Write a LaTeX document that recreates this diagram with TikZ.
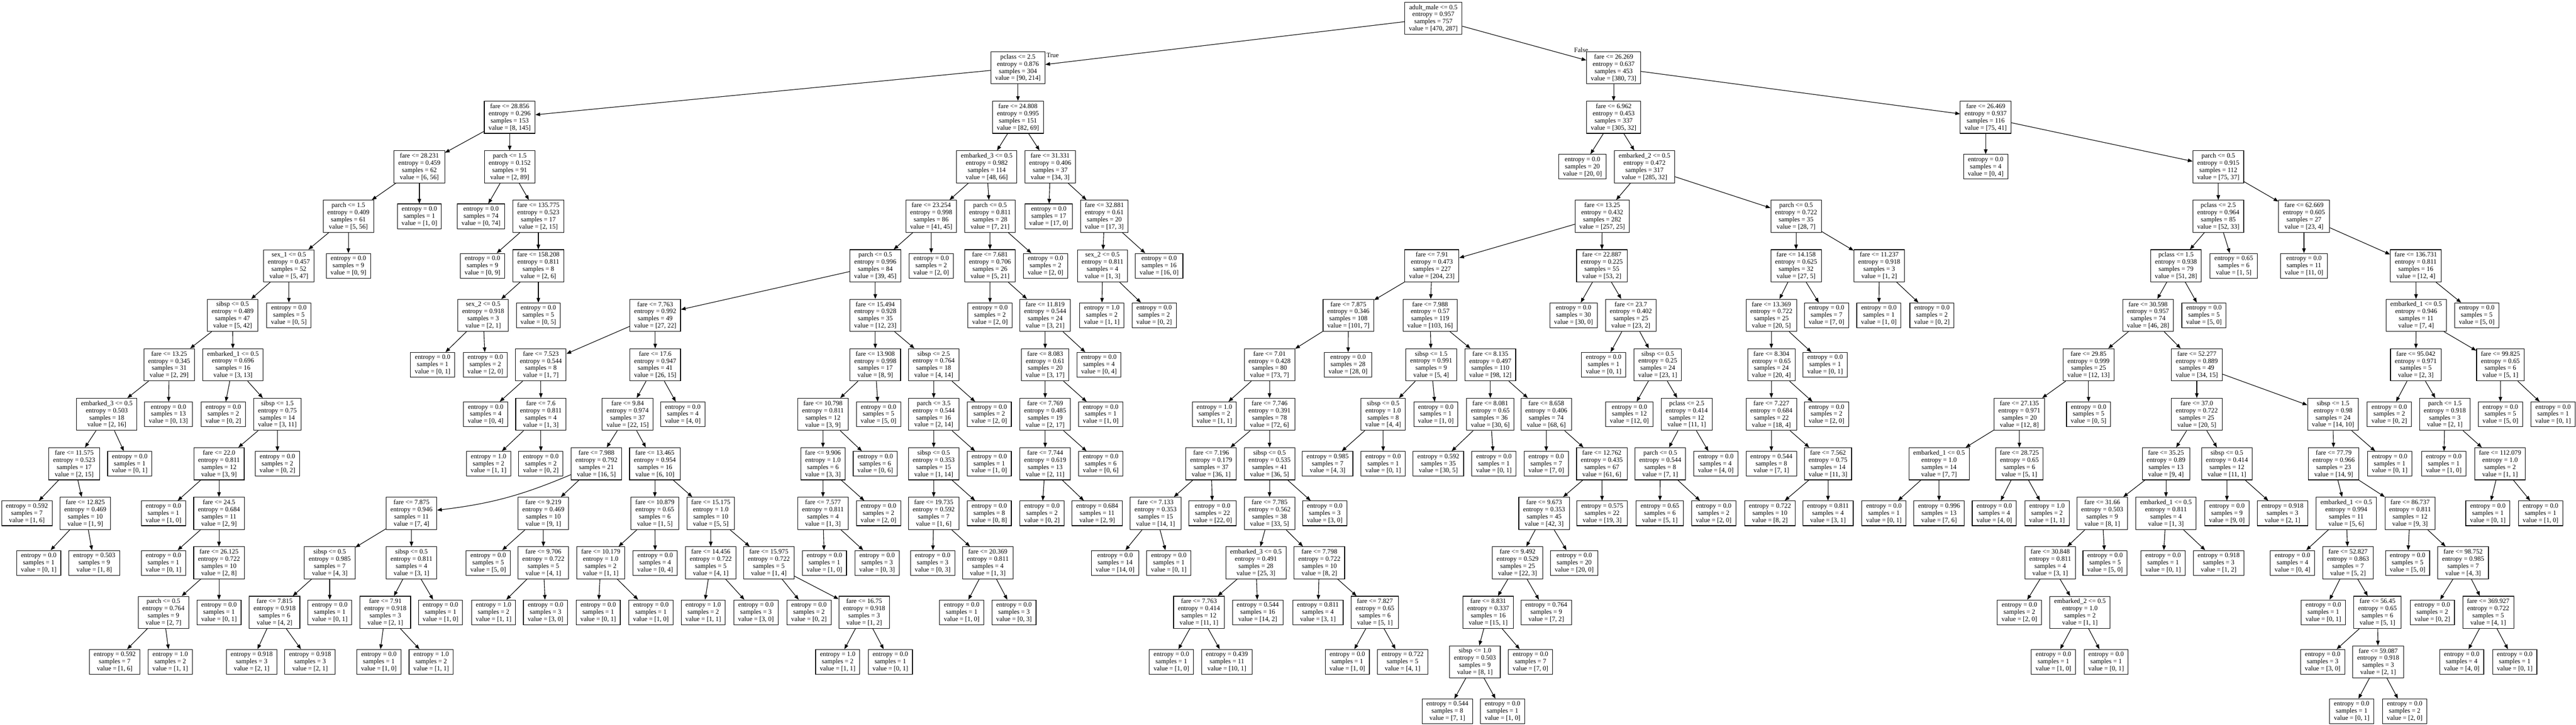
\documentclass[tikz,border=0pt]{standalone}
\usepackage{fontspec}
\setmainfont{Liberation Serif}
\usepackage{tikz}
\usetikzlibrary{arrows.meta}
\newcommand{\SplitText}[4]{#1\\entropy = #2\\samples = #3\\value = [#4]}
\newcommand{\LeafText}[3]{entropy = #1\\samples = #2\\value = [#3]}

\begin{document}
\begin{tikzpicture}[x=0.25pt, y=-34.55pt,
        dtnode/.style={draw, line width=0.4pt, align=center, inner xsep=3pt, inner ysep=1.75pt,
            font=\fontsize{4.6}{5}\selectfont},
        branch/.style={inner sep=0pt, anchor=west, font=\fontsize{4.6}{5}\selectfont},
        link/.style={-{Triangle[length=3.3pt,width=2.5pt]}, line width=0.4pt}]
        \useasboundingbox (0,-0.369) rectangle (7187,14.269);

        % level 0 - 2
        \node[dtnode] (n0-1) at (3999,0) {\SplitText{adult\_male <= 0.5}{0.957}{757}{470, 287}};
        \node[dtnode] (n1-1) at (2840,1) {\SplitText{pclass <= 2.5}{0.876}{304}{90, 214}};
        \node[dtnode] (n1-2) at (4502,1) {\SplitText{fare <= 26.269}{0.637}{453}{380, 73}};
        \node[dtnode] (n2-1) at (1422,2) {\SplitText{fare <= 28.856}{0.296}{153}{8, 145}};
        \node[dtnode] (n2-2) at (2840,2) {\SplitText{fare <= 24.808}{0.995}{151}{82, 69}};
        \node[dtnode] (n2-3) at (4502,2) {\SplitText{fare <= 6.962}{0.453}{337}{305, 32}};
        \node[dtnode] (n2-4) at (5540,2) {\SplitText{fare <= 26.469}{0.937}{116}{75, 41}};
        \node[branch] (ltrue) at (2919,0.745) {True};
        \node[branch] (lfalse) at (4391,0.644) {False};

        % level 3
        \node[dtnode] (n3-1) at (1170,3) {\SplitText{fare <= 28.231}{0.459}{62}{6, 56}};
        \node[dtnode] (n3-2) at (1422,3) {\SplitText{parch <= 1.5}{0.152}{91}{2, 89}};
        \node[dtnode] (n3-3) at (2753,3) {\SplitText{embarked\_3 <= 0.5}{0.982}{114}{48, 66}};
        \node[dtnode] (n3-4) at (2930,3) {\SplitText{fare <= 31.331}{0.406}{37}{34, 3}};
        \node[dtnode] (n3-5) at (4415,3) {\LeafText{0.0}{20}{20, 0}};
        \node[dtnode] (n3-6) at (4588,3) {\SplitText{embarked\_2 <= 0.5}{0.472}{317}{285, 32}};
        \node[dtnode] (n3-7) at (5540,3) {\LeafText{0.0}{4}{0, 4}};
        \node[dtnode] (n3-8) at (6189,3) {\SplitText{parch <= 0.5}{0.915}{112}{75, 37}};

        % level 4
        \node[dtnode] (n4-1) at (972,4) {\SplitText{parch <= 1.5}{0.409}{61}{5, 56}};
        \node[dtnode] (n4-2) at (1170,4) {\LeafText{0.0}{1}{1, 0}};
        \node[dtnode] (n4-3) at (1342,4) {\LeafText{0.0}{74}{0, 74}};
        \node[dtnode] (n4-4) at (1502,4) {\SplitText{fare <= 135.775}{0.523}{17}{2, 15}};
        \node[dtnode] (n4-5) at (2598,4) {\SplitText{fare <= 23.254}{0.998}{86}{41, 45}};
        \node[dtnode] (n4-6) at (2762,4) {\SplitText{parch <= 0.5}{0.811}{28}{7, 21}};
        \node[dtnode] (n4-7) at (2926,4) {\LeafText{0.0}{17}{17, 0}};
        \node[dtnode] (n4-8) at (3081,4) {\SplitText{fare <= 32.881}{0.61}{20}{17, 3}};
        \node[dtnode] (n4-9) at (4470,4) {\SplitText{fare <= 13.25}{0.432}{282}{257, 25}};
        \node[dtnode] (n4-10) at (5011,4) {\SplitText{parch <= 0.5}{0.722}{35}{28, 7}};
        \node[dtnode] (n4-11) at (6189,4) {\SplitText{pclass <= 2.5}{0.964}{85}{52, 33}};
        \node[dtnode] (n4-12) at (6428,4) {\SplitText{fare <= 62.669}{0.605}{27}{23, 4}};

        % level 5
        \node[dtnode] (n5-1) at (806,5) {\SplitText{sex\_1 <= 0.5}{0.457}{52}{5, 47}};
        \node[dtnode] (n5-2) at (972,5) {\LeafText{0.0}{9}{0, 9}};
        \node[dtnode] (n5-3) at (1346,5) {\LeafText{0.0}{9}{0, 9}};
        \node[dtnode] (n5-4) at (1502,5) {\SplitText{fare <= 158.208}{0.811}{8}{2, 6}};
        \node[dtnode] (n5-5) at (2442,5) {\SplitText{parch <= 0.5}{0.996}{84}{39, 45}};
        \node[dtnode] (n5-6) at (2598,5) {\LeafText{0.0}{2}{2, 0}};
        \node[dtnode] (n5-7) at (2762,5) {\SplitText{fare <= 7.681}{0.706}{26}{5, 21}};
        \node[dtnode] (n5-8) at (2917,5) {\LeafText{0.0}{2}{2, 0}};
        \node[dtnode] (n5-9) at (3076,5) {\SplitText{sex\_2 <= 0.5}{0.811}{4}{1, 3}};
        \node[dtnode] (n5-10) at (3234,5) {\LeafText{0.0}{16}{16, 0}};
        \node[dtnode] (n5-11) at (3995,5) {\SplitText{fare <= 7.91}{0.473}{227}{204, 23}};
        \node[dtnode] (n5-12) at (4469,5) {\SplitText{fare <= 22.887}{0.225}{55}{53, 2}};
        \node[dtnode] (n5-13) at (5011,5) {\SplitText{fare <= 14.158}{0.625}{32}{27, 5}};
        \node[dtnode] (n5-14) at (5243,5) {\SplitText{fare <= 11.237}{0.918}{3}{1, 2}};
        \node[dtnode] (n5-15) at (6071,5) {\SplitText{pclass <= 1.5}{0.938}{79}{51, 28}};
        \node[dtnode] (n5-16) at (6232,5) {\LeafText{0.65}{6}{1, 5}};
        \node[dtnode] (n5-17) at (6428,5) {\LeafText{0.0}{11}{11, 0}};
        \node[dtnode] (n5-18) at (6740,5) {\SplitText{fare <= 136.731}{0.811}{16}{12, 4}};

        % level 6
        \node[dtnode] (n6-1) at (649,6) {\SplitText{sibsp <= 0.5}{0.489}{47}{5, 42}};
        \node[dtnode] (n6-2) at (806,6) {\LeafText{0.0}{5}{0, 5}};
        \node[dtnode] (n6-3) at (1348,6) {\SplitText{sex\_2 <= 0.5}{0.918}{3}{2, 1}};
        \node[dtnode] (n6-4) at (1502,6) {\LeafText{0.0}{5}{0, 5}};
        \node[dtnode] (n6-5) at (1828,6) {\SplitText{fare <= 7.763}{0.992}{49}{27, 22}};
        \node[dtnode] (n6-6) at (2442,6) {\SplitText{fare <= 15.494}{0.928}{35}{12, 23}};
        \node[dtnode] (n6-7) at (2762,6) {\LeafText{0.0}{2}{2, 0}};
        \node[dtnode] (n6-8) at (2916,6) {\SplitText{fare <= 11.819}{0.544}{24}{3, 21}};
        \node[dtnode] (n6-9) at (3074,6) {\LeafText{1.0}{2}{1, 1}};
        \node[dtnode] (n6-10) at (3220,6) {\LeafText{0.0}{2}{0, 2}};
        \node[dtnode] (n6-11) at (3762,6) {\SplitText{fare <= 7.875}{0.346}{108}{101, 7}};
        \node[dtnode] (n6-12) at (3990,6) {\SplitText{fare <= 7.988}{0.57}{119}{103, 16}};
        \node[dtnode] (n6-13) at (4390,6) {\LeafText{0.0}{30}{30, 0}};
        \node[dtnode] (n6-14) at (4550,6) {\SplitText{fare <= 23.7}{0.402}{25}{23, 2}};
        \node[dtnode] (n6-15) at (4942,6) {\SplitText{fare <= 13.369}{0.722}{25}{20, 5}};
        \node[dtnode] (n6-16) at (5096,6) {\LeafText{0.0}{7}{7, 0}};
        \node[dtnode] (n6-17) at (5242,6) {\LeafText{0.0}{1}{1, 0}};
        \node[dtnode] (n6-18) at (5390,6) {\LeafText{0.0}{2}{0, 2}};
        \node[dtnode] (n6-19) at (5993,6) {\SplitText{fare <= 30.598}{0.957}{74}{46, 28}};
        \node[dtnode] (n6-20) at (6149,6) {\LeafText{0.0}{5}{5, 0}};
        \node[dtnode] (n6-21) at (6741,6) {\SplitText{embarked\_1 <= 0.5}{0.946}{11}{7, 4}};
        \node[dtnode] (n6-22) at (6910,6) {\LeafText{0.0}{5}{5, 0}};

        % level 7
        \node[dtnode] (n7-1) at (472,7) {\SplitText{fare <= 13.25}{0.345}{31}{2, 29}};
        \node[dtnode] (n7-2) at (650,7) {\SplitText{embarked\_1 <= 0.5}{0.696}{16}{3, 13}};
        \node[dtnode] (n7-3) at (1207,7) {\LeafText{0.0}{1}{0, 1}};
        \node[dtnode] (n7-4) at (1354,7) {\LeafText{0.0}{2}{2, 0}};
        \node[dtnode] (n7-5) at (1509,7) {\SplitText{fare <= 7.523}{0.544}{8}{1, 7}};
        \node[dtnode] (n7-6) at (1828,7) {\SplitText{fare <= 17.6}{0.947}{41}{26, 15}};
        \node[dtnode] (n7-7) at (2442,7) {\SplitText{fare <= 13.908}{0.998}{17}{8, 9}};
        \node[dtnode] (n7-8) at (2605,7) {\SplitText{sibsp <= 2.5}{0.764}{18}{4, 14}};
        \node[dtnode] (n7-9) at (2916,7) {\SplitText{fare <= 8.083}{0.61}{20}{3, 17}};
        \node[dtnode] (n7-10) at (3066,7) {\LeafText{0.0}{4}{0, 4}};
        \node[dtnode] (n7-11) at (3542,7) {\SplitText{fare <= 7.01}{0.428}{80}{73, 7}};
        \node[dtnode] (n7-12) at (3761,7) {\LeafText{0.0}{28}{28, 0}};
        \node[dtnode] (n7-13) at (3993,7) {\SplitText{sibsp <= 1.5}{0.991}{9}{5, 4}};
        \node[dtnode] (n7-14) at (4158,7) {\SplitText{fare <= 8.135}{0.497}{110}{98, 12}};
        \node[dtnode] (n7-15) at (4474,7) {\LeafText{0.0}{1}{0, 1}};
        \node[dtnode] (n7-16) at (4625,7) {\SplitText{sibsp <= 0.5}{0.25}{24}{23, 1}};
        \node[dtnode] (n7-17) at (4942,7) {\SplitText{fare <= 8.304}{0.65}{24}{20, 4}};
        \node[dtnode] (n7-18) at (5092,7) {\LeafText{0.0}{1}{0, 1}};
        \node[dtnode] (n7-19) at (5827,7) {\SplitText{fare <= 29.85}{0.999}{25}{12, 13}};
        \node[dtnode] (n7-20) at (6129,7) {\SplitText{fare <= 52.277}{0.889}{49}{34, 15}};
        \node[dtnode] (n7-21) at (6740,7) {\SplitText{fare <= 95.042}{0.971}{5}{2, 3}};
        \node[dtnode] (n7-22) at (6976,7) {\SplitText{fare <= 99.825}{0.65}{6}{5, 1}};

        % level 8
        \node[dtnode] (n8-1) at (298,8) {\SplitText{embarked\_3 <= 0.5}{0.503}{18}{2, 16}};
        \node[dtnode] (n8-2) at (470,8) {\LeafText{0.0}{13}{0, 13}};
        \node[dtnode] (n8-3) at (623,8) {\LeafText{0.0}{2}{0, 2}};
        \node[dtnode] (n8-4) at (774,8) {\SplitText{sibsp <= 1.5}{0.75}{14}{3, 11}};
        \node[dtnode] (n8-5) at (1355,8) {\LeafText{0.0}{4}{0, 4}};
        \node[dtnode] (n8-6) at (1509,8) {\SplitText{fare <= 7.6}{0.811}{4}{1, 3}};
        \node[dtnode] (n8-7) at (1751,8) {\SplitText{fare <= 9.84}{0.974}{37}{22, 15}};
        \node[dtnode] (n8-8) at (1905,8) {\LeafText{0.0}{4}{4, 0}};
        \node[dtnode] (n8-9) at (2296,8) {\SplitText{fare <= 10.798}{0.811}{12}{3, 9}};
        \node[dtnode] (n8-10) at (2451,8) {\LeafText{0.0}{5}{5, 0}};
        \node[dtnode] (n8-11) at (2605,8) {\SplitText{parch <= 3.5}{0.544}{16}{2, 14}};
        \node[dtnode] (n8-12) at (2760,8) {\LeafText{0.0}{2}{2, 0}};
        \node[dtnode] (n8-13) at (2916,8) {\SplitText{fare <= 7.769}{0.485}{19}{2, 17}};
        \node[dtnode] (n8-14) at (3071,8) {\LeafText{0.0}{1}{1, 0}};
        \node[dtnode] (n8-15) at (3388,8) {\LeafText{1.0}{2}{1, 1}};
        \node[dtnode] (n8-16) at (3542,8) {\SplitText{fare <= 7.746}{0.391}{78}{72, 6}};
        \node[dtnode] (n8-17) at (3859,8) {\SplitText{sibsp <= 0.5}{1.0}{8}{4, 4}};
        \node[dtnode] (n8-18) at (4006,8) {\LeafText{0.0}{1}{1, 0}};
        \node[dtnode] (n8-19) at (4158,8) {\SplitText{fare <= 8.081}{0.65}{36}{30, 6}};
        \node[dtnode] (n8-20) at (4314,8) {\SplitText{fare <= 8.658}{0.406}{74}{68, 6}};
        \node[dtnode] (n8-21) at (4546,8) {\LeafText{0.0}{12}{12, 0}};
        \node[dtnode] (n8-22) at (4706,8) {\SplitText{pclass <= 2.5}{0.414}{12}{11, 1}};
        \node[dtnode] (n8-23) at (4942,8) {\SplitText{fare <= 7.227}{0.684}{22}{18, 4}};
        \node[dtnode] (n8-24) at (5096,8) {\LeafText{0.0}{2}{2, 0}};
        \node[dtnode] (n8-25) at (5634,8) {\SplitText{fare <= 27.135}{0.971}{20}{12, 8}};
        \node[dtnode] (n8-26) at (5827,8) {\LeafText{0.0}{5}{0, 5}};
        \node[dtnode] (n8-27) at (6129,8) {\SplitText{fare <= 37.0}{0.722}{25}{20, 5}};
        \node[dtnode] (n8-28) at (6509,8) {\SplitText{sibsp <= 1.5}{0.98}{24}{14, 10}};
        \node[dtnode] (n8-29) at (6666,8) {\LeafText{0.0}{2}{0, 2}};
        \node[dtnode] (n8-30) at (6821,8) {\SplitText{parch <= 1.5}{0.918}{3}{2, 1}};
        \node[dtnode] (n8-31) at (6976,8) {\LeafText{0.0}{5}{5, 0}};
        \node[dtnode] (n8-32) at (7123,8) {\LeafText{0.0}{1}{0, 1}};

        % level 9
        \node[dtnode] (n9-1) at (207,9) {\SplitText{fare <= 11.575}{0.523}{17}{2, 15}};
        \node[dtnode] (n9-2) at (362,9) {\LeafText{0.0}{1}{0, 1}};
        \node[dtnode] (n9-3) at (611,9) {\SplitText{fare <= 22.0}{0.811}{12}{3, 9}};
        \node[dtnode] (n9-4) at (774,9) {\LeafText{0.0}{2}{0, 2}};
        \node[dtnode] (n9-5) at (1363,9) {\LeafText{1.0}{2}{1, 1}};
        \node[dtnode] (n9-6) at (1509,9) {\LeafText{0.0}{2}{0, 2}};
        \node[dtnode] (n9-7) at (1664,9) {\SplitText{fare <= 7.988}{0.792}{21}{16, 5}};
        \node[dtnode] (n9-8) at (1827,9) {\SplitText{fare <= 13.465}{0.954}{16}{6, 10}};
        \node[dtnode] (n9-9) at (2296,9) {\SplitText{fare <= 9.906}{1.0}{6}{3, 3}};
        \node[dtnode] (n9-10) at (2442,9) {\LeafText{0.0}{6}{0, 6}};
        \node[dtnode] (n9-11) at (2605,9) {\SplitText{sibsp <= 0.5}{0.353}{15}{1, 14}};
        \node[dtnode] (n9-12) at (2760,9) {\LeafText{0.0}{1}{1, 0}};
        \node[dtnode] (n9-13) at (2916,9) {\SplitText{fare <= 7.744}{0.619}{13}{2, 11}};
        \node[dtnode] (n9-14) at (3071,9) {\LeafText{0.0}{6}{0, 6}};
        \node[dtnode] (n9-15) at (3379,9) {\SplitText{fare <= 7.196}{0.179}{37}{36, 1}};
        \node[dtnode] (n9-16) at (3542,9) {\SplitText{sibsp <= 0.5}{0.535}{41}{36, 5}};
        \node[dtnode] (n9-17) at (3704,9) {\LeafText{0.985}{7}{4, 3}};
        \node[dtnode] (n9-18) at (3859,9) {\LeafText{0.0}{1}{0, 1}};
        \node[dtnode] (n9-19) at (4013,9) {\LeafText{0.592}{35}{30, 5}};
        \node[dtnode] (n9-20) at (4168,9) {\LeafText{0.0}{1}{0, 1}};
        \node[dtnode] (n9-21) at (4314,9) {\LeafText{0.0}{7}{7, 0}};
        \node[dtnode] (n9-22) at (4469,9) {\SplitText{fare <= 12.762}{0.435}{67}{61, 6}};
        \node[dtnode] (n9-23) at (4632,9) {\SplitText{parch <= 0.5}{0.544}{8}{7, 1}};
        \node[dtnode] (n9-24) at (4787,9) {\LeafText{0.0}{4}{4, 0}};
        \node[dtnode] (n9-25) at (4942,9) {\LeafText{0.544}{8}{7, 1}};
        \node[dtnode] (n9-26) at (5100,9) {\SplitText{fare <= 7.562}{0.75}{14}{11, 3}};
        \node[dtnode] (n9-27) at (5410,9) {\SplitText{embarked\_1 <= 0.5}{1.0}{14}{7, 7}};
        \node[dtnode] (n9-28) at (5634,9) {\SplitText{fare <= 28.725}{0.65}{6}{5, 1}};
        \node[dtnode] (n9-29) at (6043,9) {\SplitText{fare <= 35.25}{0.89}{13}{9, 4}};
        \node[dtnode] (n9-30) at (6213,9) {\SplitText{sibsp <= 0.5}{0.414}{12}{11, 1}};
        \node[dtnode] (n9-31) at (6511,9) {\SplitText{fare <= 77.79}{0.966}{23}{14, 9}};
        \node[dtnode] (n9-32) at (6667,9) {\LeafText{0.0}{1}{0, 1}};
        \node[dtnode] (n9-33) at (6818,9) {\LeafText{0.0}{1}{1, 0}};
        \node[dtnode] (n9-34) at (6975,9) {\SplitText{fare <= 112.079}{1.0}{2}{1, 1}};

        % level 10
        \node[dtnode] (n10-1) at (75,10) {\LeafText{0.592}{7}{1, 6}};
        \node[dtnode] (n10-2) at (238,10) {\SplitText{fare <= 12.825}{0.469}{10}{1, 9}};
        \node[dtnode] (n10-3) at (456,10) {\LeafText{0.0}{1}{1, 0}};
        \node[dtnode] (n10-4) at (611,10) {\SplitText{fare <= 24.5}{0.684}{11}{2, 9}};
        \node[dtnode] (n10-5) at (1148,10) {\SplitText{fare <= 7.875}{0.946}{11}{7, 4}};
        \node[dtnode] (n10-6) at (1516,10) {\SplitText{fare <= 9.219}{0.469}{10}{9, 1}};
        \node[dtnode] (n10-7) at (1827,10) {\SplitText{fare <= 10.879}{0.65}{6}{1, 5}};
        \node[dtnode] (n10-8) at (1983,10) {\SplitText{fare <= 15.175}{1.0}{10}{5, 5}};
        \node[dtnode] (n10-9) at (2296,10) {\SplitText{fare <= 7.577}{0.811}{4}{1, 3}};
        \node[dtnode] (n10-10) at (2451,10) {\LeafText{0.0}{2}{2, 0}};
        \node[dtnode] (n10-11) at (2605,10) {\SplitText{fare <= 19.735}{0.592}{7}{1, 6}};
        \node[dtnode] (n10-12) at (2760,10) {\LeafText{0.0}{8}{0, 8}};
        \node[dtnode] (n10-13) at (2907,10) {\LeafText{0.0}{2}{0, 2}};
        \node[dtnode] (n10-14) at (3061,10) {\LeafText{0.684}{11}{2, 9}};
        \node[dtnode] (n10-15) at (3224,10) {\SplitText{fare <= 7.133}{0.353}{15}{14, 1}};
        \node[dtnode] (n10-16) at (3383,10) {\LeafText{0.0}{22}{22, 0}};
        \node[dtnode] (n10-17) at (3542,10) {\SplitText{fare <= 7.785}{0.562}{38}{33, 5}};
        \node[dtnode] (n10-18) at (3696,10) {\LeafText{0.0}{3}{3, 0}};
        \node[dtnode] (n10-19) at (4308,10) {\SplitText{fare <= 9.673}{0.353}{45}{42, 3}};
        \node[dtnode] (n10-20) at (4470,10) {\LeafText{0.575}{22}{19, 3}};
        \node[dtnode] (n10-21) at (4631,10) {\LeafText{0.65}{6}{5, 1}};
        \node[dtnode] (n10-22) at (4781,10) {\LeafText{0.0}{2}{2, 0}};
        \node[dtnode] (n10-23) at (4938,10) {\LeafText{0.722}{10}{8, 2}};
        \node[dtnode] (n10-24) at (5100,10) {\LeafText{0.811}{4}{3, 1}};
        \node[dtnode] (n10-25) at (5256,10) {\LeafText{0.0}{1}{0, 1}};
        \node[dtnode] (n10-26) at (5410,10) {\LeafText{0.996}{13}{7, 6}};
        \node[dtnode] (n10-27) at (5564,10) {\LeafText{0.0}{4}{4, 0}};
        \node[dtnode] (n10-28) at (5711,10) {\LeafText{1.0}{2}{1, 1}};
        \node[dtnode] (n10-29) at (5865,10) {\SplitText{fare <= 31.66}{0.503}{9}{8, 1}};
        \node[dtnode] (n10-30) at (6043,10) {\SplitText{embarked\_1 <= 0.5}{0.811}{4}{1, 3}};
        \node[dtnode] (n10-31) at (6213,10) {\LeafText{0.0}{9}{9, 0}};
        \node[dtnode] (n10-32) at (6368,10) {\LeafText{0.918}{3}{2, 1}};
        \node[dtnode] (n10-33) at (6546,10) {\SplitText{embarked\_1 <= 0.5}{0.994}{11}{5, 6}};
        \node[dtnode] (n10-34) at (6724,10) {\SplitText{fare <= 86.737}{0.811}{12}{9, 3}};
        \node[dtnode] (n10-35) at (6941,10) {\LeafText{0.0}{1}{0, 1}};
        \node[dtnode] (n10-36) at (7088,10) {\LeafText{0.0}{1}{1, 0}};

        % level 11
        \node[dtnode] (n11-1) at (108,11) {\LeafText{0.0}{1}{0, 1}};
        \node[dtnode] (n11-2) at (263,11) {\LeafText{0.503}{9}{1, 8}};
        \node[dtnode] (n11-3) at (456,11) {\LeafText{0.0}{1}{0, 1}};
        \node[dtnode] (n11-4) at (611,11) {\SplitText{fare <= 26.125}{0.722}{10}{2, 8}};
        \node[dtnode] (n11-5) at (920,11) {\SplitText{sibsp <= 0.5}{0.985}{7}{4, 3}};
        \node[dtnode] (n11-6) at (1148,11) {\SplitText{sibsp <= 0.5}{0.811}{4}{3, 1}};
        \node[dtnode] (n11-7) at (1362,11) {\LeafText{0.0}{5}{5, 0}};
        \node[dtnode] (n11-8) at (1516,11) {\SplitText{fare <= 9.706}{0.722}{5}{4, 1}};
        \node[dtnode] (n11-9) at (1676,11) {\SplitText{fare <= 10.179}{1.0}{2}{1, 1}};
        \node[dtnode] (n11-10) at (1828,11) {\LeafText{0.0}{4}{0, 4}};
        \node[dtnode] (n11-11) at (1983,11) {\SplitText{fare <= 14.456}{0.722}{5}{4, 1}};
        \node[dtnode] (n11-12) at (2145,11) {\SplitText{fare <= 15.975}{0.722}{5}{1, 4}};
        \node[dtnode] (n11-13) at (2300,11) {\LeafText{0.0}{1}{1, 0}};
        \node[dtnode] (n11-14) at (2447,11) {\LeafText{0.0}{3}{0, 3}};
        \node[dtnode] (n11-15) at (2602,11) {\LeafText{0.0}{3}{0, 3}};
        \node[dtnode] (n11-16) at (2756,11) {\SplitText{fare <= 20.369}{0.811}{4}{1, 3}};
        \node[dtnode] (n11-17) at (3111,11) {\LeafText{0.0}{14}{14, 0}};
        \node[dtnode] (n11-18) at (3261,11) {\LeafText{0.0}{1}{0, 1}};
        \node[dtnode] (n11-19) at (3504,11) {\SplitText{embarked\_3 <= 0.5}{0.491}{28}{25, 3}};
        \node[dtnode] (n11-20) at (3681,11) {\SplitText{fare <= 7.798}{0.722}{10}{8, 2}};
        \node[dtnode] (n11-21) at (4234,11) {\SplitText{fare <= 9.492}{0.529}{25}{22, 3}};
        \node[dtnode] (n11-22) at (4392,11) {\LeafText{0.0}{20}{20, 0}};
        \node[dtnode] (n11-23) at (5720,11) {\SplitText{fare <= 30.848}{0.811}{4}{3, 1}};
        \node[dtnode] (n11-24) at (5873,11) {\LeafText{0.0}{5}{5, 0}};
        \node[dtnode] (n11-25) at (6035,11) {\LeafText{0.0}{1}{0, 1}};
        \node[dtnode] (n11-26) at (6190,11) {\LeafText{0.918}{3}{1, 2}};
        \node[dtnode] (n11-27) at (6396,11) {\LeafText{0.0}{4}{0, 4}};
        \node[dtnode] (n11-28) at (6551,11) {\SplitText{fare <= 52.827}{0.863}{7}{5, 2}};
        \node[dtnode] (n11-29) at (6717,11) {\LeafText{0.0}{5}{5, 0}};
        \node[dtnode] (n11-30) at (6872,11) {\SplitText{fare <= 98.752}{0.985}{7}{4, 3}};

        % level 12
        \node[dtnode] (n12-1) at (456,12) {\SplitText{parch <= 0.5}{0.764}{9}{2, 7}};
        \node[dtnode] (n12-2) at (611,12) {\LeafText{0.0}{1}{0, 1}};
        \node[dtnode] (n12-3) at (766,12) {\SplitText{fare <= 7.815}{0.918}{6}{4, 2}};
        \node[dtnode] (n12-4) at (920,12) {\LeafText{0.0}{1}{0, 1}};
        \node[dtnode] (n12-5) at (1075,12) {\SplitText{fare <= 7.91}{0.918}{3}{2, 1}};
        \node[dtnode] (n12-6) at (1229,12) {\LeafText{0.0}{1}{1, 0}};
        \node[dtnode] (n12-7) at (1377,12) {\LeafText{1.0}{2}{1, 1}};
        \node[dtnode] (n12-8) at (1522,12) {\LeafText{0.0}{3}{3, 0}};
        \node[dtnode] (n12-9) at (1669,12) {\LeafText{0.0}{1}{0, 1}};
        \node[dtnode] (n12-10) at (1816,12) {\LeafText{0.0}{1}{1, 0}};
        \node[dtnode] (n12-11) at (1962,12) {\LeafText{1.0}{2}{1, 1}};
        \node[dtnode] (n12-12) at (2109,12) {\LeafText{0.0}{3}{3, 0}};
        \node[dtnode] (n12-13) at (2257,12) {\LeafText{0.0}{2}{0, 2}};
        \node[dtnode] (n12-14) at (2411,12) {\SplitText{fare <= 16.75}{0.918}{3}{1, 2}};
        \node[dtnode] (n12-15) at (2683,12) {\LeafText{0.0}{1}{1, 0}};
        \node[dtnode] (n12-16) at (2829,12) {\LeafText{0.0}{3}{0, 3}};
        \node[dtnode] (n12-17) at (3345,12) {\SplitText{fare <= 7.763}{0.414}{12}{11, 1}};
        \node[dtnode] (n12-18) at (3509,12) {\LeafText{0.544}{16}{14, 2}};
        \node[dtnode] (n12-19) at (3677,12) {\LeafText{0.811}{4}{3, 1}};
        \node[dtnode] (n12-20) at (3836,12) {\SplitText{fare <= 7.827}{0.65}{6}{5, 1}};
        \node[dtnode] (n12-21) at (4152,12) {\SplitText{fare <= 8.831}{0.337}{16}{15, 1}};
        \node[dtnode] (n12-22) at (4314,12) {\LeafText{0.764}{9}{7, 2}};
        \node[dtnode] (n12-23) at (5634,12) {\LeafText{0.0}{2}{2, 0}};
        \node[dtnode] (n12-24) at (5803,12) {\SplitText{embarked\_2 <= 0.5}{1.0}{2}{1, 1}};
        \node[dtnode] (n12-25) at (6482,12) {\LeafText{0.0}{1}{0, 1}};
        \node[dtnode] (n12-26) at (6633,12) {\SplitText{fare <= 56.45}{0.65}{6}{5, 1}};
        \node[dtnode] (n12-27) at (6786,12) {\LeafText{0.0}{2}{0, 2}};
        \node[dtnode] (n12-28) at (6942,12) {\SplitText{fare <= 369.927}{0.722}{5}{4, 1}};

        % level 13 - 14
        \node[dtnode] (n13-1) at (320,13) {\LeafText{0.592}{7}{1, 6}};
        \node[dtnode] (n13-2) at (475,13) {\LeafText{1.0}{2}{1, 1}};
        \node[dtnode] (n13-3) at (702,13) {\LeafText{0.918}{3}{2, 1}};
        \node[dtnode] (n13-4) at (865,13) {\LeafText{0.918}{3}{2, 1}};
        \node[dtnode] (n13-5) at (1057,13) {\LeafText{0.0}{1}{1, 0}};
        \node[dtnode] (n13-6) at (1203,13) {\LeafText{1.0}{2}{1, 1}};
        \node[dtnode] (n13-7) at (2337,13) {\LeafText{1.0}{2}{1, 1}};
        \node[dtnode] (n13-8) at (2484,13) {\LeafText{0.0}{1}{0, 1}};
        \node[dtnode] (n13-9) at (3268,13) {\LeafText{0.0}{1}{1, 0}};
        \node[dtnode] (n13-10) at (3423,13) {\LeafText{0.439}{11}{10, 1}};
        \node[dtnode] (n13-11) at (3759,13) {\LeafText{0.0}{1}{1, 0}};
        \node[dtnode] (n13-12) at (3913,13) {\LeafText{0.722}{5}{4, 1}};
        \node[dtnode] (n13-13) at (4115,13) {\SplitText{sibsp <= 1.0}{0.503}{9}{8, 1}};
        \node[dtnode] (n13-14) at (4270,13) {\LeafText{0.0}{7}{7, 0}};
        \node[dtnode] (n13-15) at (5729,13) {\LeafText{0.0}{1}{1, 0}};
        \node[dtnode] (n13-16) at (5876,13) {\LeafText{0.0}{1}{0, 1}};
        \node[dtnode] (n13-17) at (6480,13) {\LeafText{0.0}{3}{3, 0}};
        \node[dtnode] (n13-18) at (6635,13) {\SplitText{fare <= 59.087}{0.918}{3}{2, 1}};
        \node[dtnode] (n13-19) at (6868,13) {\LeafText{0.0}{4}{4, 0}};
        \node[dtnode] (n13-20) at (7016,13) {\LeafText{0.0}{1}{0, 1}};
        \node[dtnode] (n14-1) at (4038,14) {\LeafText{0.544}{8}{7, 1}};
        \node[dtnode] (n14-2) at (4192,14) {\LeafText{0.0}{1}{1, 0}};
        \node[dtnode] (n14-3) at (6561,14) {\LeafText{0.0}{1}{0, 1}};
        \node[dtnode] (n14-4) at (6709,14) {\LeafText{0.0}{2}{2, 0}};

        % connectors
        \path[link] (n0-1) edge (n1-1) edge (n1-2);
        \path[link] (n1-1) edge (n2-1) edge (n2-2);
        \path[link] (n1-2) edge (n2-3) edge (n2-4);
        \path[link] (n2-1) edge (n3-1) edge (n3-2);
        \path[link] (n2-2) edge (n3-3) edge (n3-4);
        \path[link] (n2-3) edge (n3-5) edge (n3-6);
        \path[link] (n2-4) edge (n3-7) edge (n3-8);
        \path[link] (n3-1) edge (n4-1) edge (n4-2);
        \path[link] (n3-2) edge (n4-3) edge (n4-4);
        \path[link] (n3-3) edge (n4-5) edge (n4-6);
        \path[link] (n3-4) edge (n4-7) edge (n4-8);
        \path[link] (n3-6) edge (n4-9) edge (n4-10);
        \path[link] (n3-8) edge (n4-11) edge (n4-12);
        \path[link] (n4-1) edge (n5-1) edge (n5-2);
        \path[link] (n4-4) edge (n5-3) edge (n5-4);
        \path[link] (n4-5) edge (n5-5) edge (n5-6);
        \path[link] (n4-6) edge (n5-7) edge (n5-8);
        \path[link] (n4-8) edge (n5-9) edge (n5-10);
        \path[link] (n4-9) edge (n5-11) edge (n5-12);
        \path[link] (n4-10) edge (n5-13) edge (n5-14);
        \path[link] (n4-11) edge (n5-15) edge (n5-16);
        \path[link] (n4-12) edge (n5-17) edge (n5-18);
        \path[link] (n5-1) edge (n6-1) edge (n6-2);
        \path[link] (n5-4) edge (n6-3) edge (n6-4);
        \path[link] (n5-5) edge (n6-5) edge (n6-6);
        \path[link] (n5-7) edge (n6-7) edge (n6-8);
        \path[link] (n5-9) edge (n6-9) edge (n6-10);
        \path[link] (n5-11) edge (n6-11) edge (n6-12);
        \path[link] (n5-12) edge (n6-13) edge (n6-14);
        \path[link] (n5-13) edge (n6-15) edge (n6-16);
        \path[link] (n5-14) edge (n6-17) edge (n6-18);
        \path[link] (n5-15) edge (n6-19) edge (n6-20);
        \path[link] (n5-18) edge (n6-21) edge (n6-22);
        \path[link] (n6-1) edge (n7-1) edge (n7-2);
        \path[link] (n6-3) edge (n7-3) edge (n7-4);
        \path[link] (n6-5) edge (n7-5) edge (n7-6);
        \path[link] (n6-6) edge (n7-7) edge (n7-8);
        \path[link] (n6-8) edge (n7-9) edge (n7-10);
        \path[link] (n6-11) edge (n7-11) edge (n7-12);
        \path[link] (n6-12) edge (n7-13) edge (n7-14);
        \path[link] (n6-14) edge (n7-15) edge (n7-16);
        \path[link] (n6-15) edge (n7-17) edge (n7-18);
        \path[link] (n6-19) edge (n7-19) edge (n7-20);
        \path[link] (n6-21) edge (n7-21) edge (n7-22);
        \path[link] (n7-1) edge (n8-1) edge (n8-2);
        \path[link] (n7-2) edge (n8-3) edge (n8-4);
        \path[link] (n7-5) edge (n8-5) edge (n8-6);
        \path[link] (n7-6) edge (n8-7) edge (n8-8);
        \path[link] (n7-7) edge (n8-9) edge (n8-10);
        \path[link] (n7-8) edge (n8-11) edge (n8-12);
        \path[link] (n7-9) edge (n8-13) edge (n8-14);
        \path[link] (n7-11) edge (n8-15) edge (n8-16);
        \path[link] (n7-13) edge (n8-17) edge (n8-18);
        \path[link] (n7-14) edge (n8-19) edge (n8-20);
        \path[link] (n7-16) edge (n8-21) edge (n8-22);
        \path[link] (n7-17) edge (n8-23) edge (n8-24);
        \path[link] (n7-19) edge (n8-25) edge (n8-26);
        \path[link] (n7-20) edge (n8-27) edge (n8-28);
        \path[link] (n7-21) edge (n8-29) edge (n8-30);
        \path[link] (n7-22) edge (n8-31) edge (n8-32);
        \path[link] (n8-1) edge (n9-1) edge (n9-2);
        \path[link] (n8-4) edge (n9-3) edge (n9-4);
        \path[link] (n8-6) edge (n9-5) edge (n9-6);
        \path[link] (n8-7) edge (n9-7) edge (n9-8);
        \path[link] (n8-9) edge (n9-9) edge (n9-10);
        \path[link] (n8-11) edge (n9-11) edge (n9-12);
        \path[link] (n8-13) edge (n9-13) edge (n9-14);
        \path[link] (n8-16) edge (n9-15) edge (n9-16);
        \path[link] (n8-17) edge (n9-17) edge (n9-18);
        \path[link] (n8-19) edge (n9-19) edge (n9-20);
        \path[link] (n8-20) edge (n9-21) edge (n9-22);
        \path[link] (n8-22) edge (n9-23) edge (n9-24);
        \path[link] (n8-23) edge (n9-25) edge (n9-26);
        \path[link] (n8-25) edge (n9-27) edge (n9-28);
        \path[link] (n8-27) edge (n9-29) edge (n9-30);
        \path[link] (n8-28) edge (n9-31) edge (n9-32);
        \path[link] (n8-30) edge (n9-33) edge (n9-34);
        \path[link] (n9-1) edge (n10-1) edge (n10-2);
        \path[link] (n9-3) edge (n10-3) edge (n10-4);
        \path[link] (n9-7) edge[bend left=8] (n10-5) edge (n10-6);
        \path[link] (n9-8) edge (n10-7) edge (n10-8);
        \path[link] (n9-9) edge (n10-9) edge (n10-10);
        \path[link] (n9-11) edge (n10-11) edge (n10-12);
        \path[link] (n9-13) edge (n10-13) edge (n10-14);
        \path[link] (n9-15) edge (n10-15) edge (n10-16);
        \path[link] (n9-16) edge (n10-17) edge (n10-18);
        \path[link] (n9-22) edge (n10-19) edge (n10-20);
        \path[link] (n9-23) edge (n10-21) edge (n10-22);
        \path[link] (n9-26) edge (n10-23) edge (n10-24);
        \path[link] (n9-27) edge (n10-25) edge (n10-26);
        \path[link] (n9-28) edge (n10-27) edge (n10-28);
        \path[link] (n9-29) edge (n10-29) edge (n10-30);
        \path[link] (n9-30) edge (n10-31) edge (n10-32);
        \path[link] (n9-31) edge (n10-33) edge (n10-34);
        \path[link] (n9-34) edge (n10-35) edge (n10-36);
        \path[link] (n10-2) edge (n11-1) edge (n11-2);
        \path[link] (n10-4) edge (n11-3) edge (n11-4);
        \path[link] (n10-5) edge (n11-5) edge (n11-6);
        \path[link] (n10-6) edge (n11-7) edge (n11-8);
        \path[link] (n10-7) edge (n11-9) edge (n11-10);
        \path[link] (n10-8) edge (n11-11) edge (n11-12);
        \path[link] (n10-9) edge (n11-13) edge (n11-14);
        \path[link] (n10-11) edge (n11-15) edge (n11-16);
        \path[link] (n10-15) edge (n11-17) edge (n11-18);
        \path[link] (n10-17) edge (n11-19) edge (n11-20);
        \path[link] (n10-19) edge (n11-21) edge (n11-22);
        \path[link] (n10-29) edge (n11-23) edge (n11-24);
        \path[link] (n10-30) edge (n11-25) edge (n11-26);
        \path[link] (n10-33) edge (n11-27) edge (n11-28);
        \path[link] (n10-34) edge (n11-29) edge (n11-30);
        \path[link] (n11-4) edge (n12-1) edge (n12-2);
        \path[link] (n11-5) edge (n12-3) edge (n12-4);
        \path[link] (n11-6) edge (n12-5) edge (n12-6);
        \path[link] (n11-8) edge (n12-7) edge (n12-8);
        \path[link] (n11-9) edge (n12-9) edge (n12-10);
        \path[link] (n11-11) edge (n12-11) edge (n12-12);
        \path[link] (n11-12) edge (n12-13) edge (n12-14);
        \path[link] (n11-16) edge (n12-15) edge (n12-16);
        \path[link] (n11-19) edge (n12-17) edge (n12-18);
        \path[link] (n11-20) edge (n12-19) edge (n12-20);
        \path[link] (n11-21) edge (n12-21) edge (n12-22);
        \path[link] (n11-23) edge (n12-23) edge (n12-24);
        \path[link] (n11-28) edge (n12-25) edge (n12-26);
        \path[link] (n11-30) edge (n12-27) edge (n12-28);
        \path[link] (n12-1) edge (n13-1) edge (n13-2);
        \path[link] (n12-3) edge (n13-3) edge (n13-4);
        \path[link] (n12-5) edge (n13-5) edge (n13-6);
        \path[link] (n12-14) edge (n13-7) edge (n13-8);
        \path[link] (n12-17) edge (n13-9) edge (n13-10);
        \path[link] (n12-20) edge (n13-11) edge (n13-12);
        \path[link] (n12-21) edge (n13-13) edge (n13-14);
        \path[link] (n12-24) edge (n13-15) edge (n13-16);
        \path[link] (n12-26) edge (n13-17) edge (n13-18);
        \path[link] (n12-28) edge (n13-19) edge (n13-20);
        \path[link] (n13-13) edge (n14-1) edge (n14-2);
        \path[link] (n13-18) edge (n14-3) edge (n14-4);
\end{tikzpicture}
\end{document}
